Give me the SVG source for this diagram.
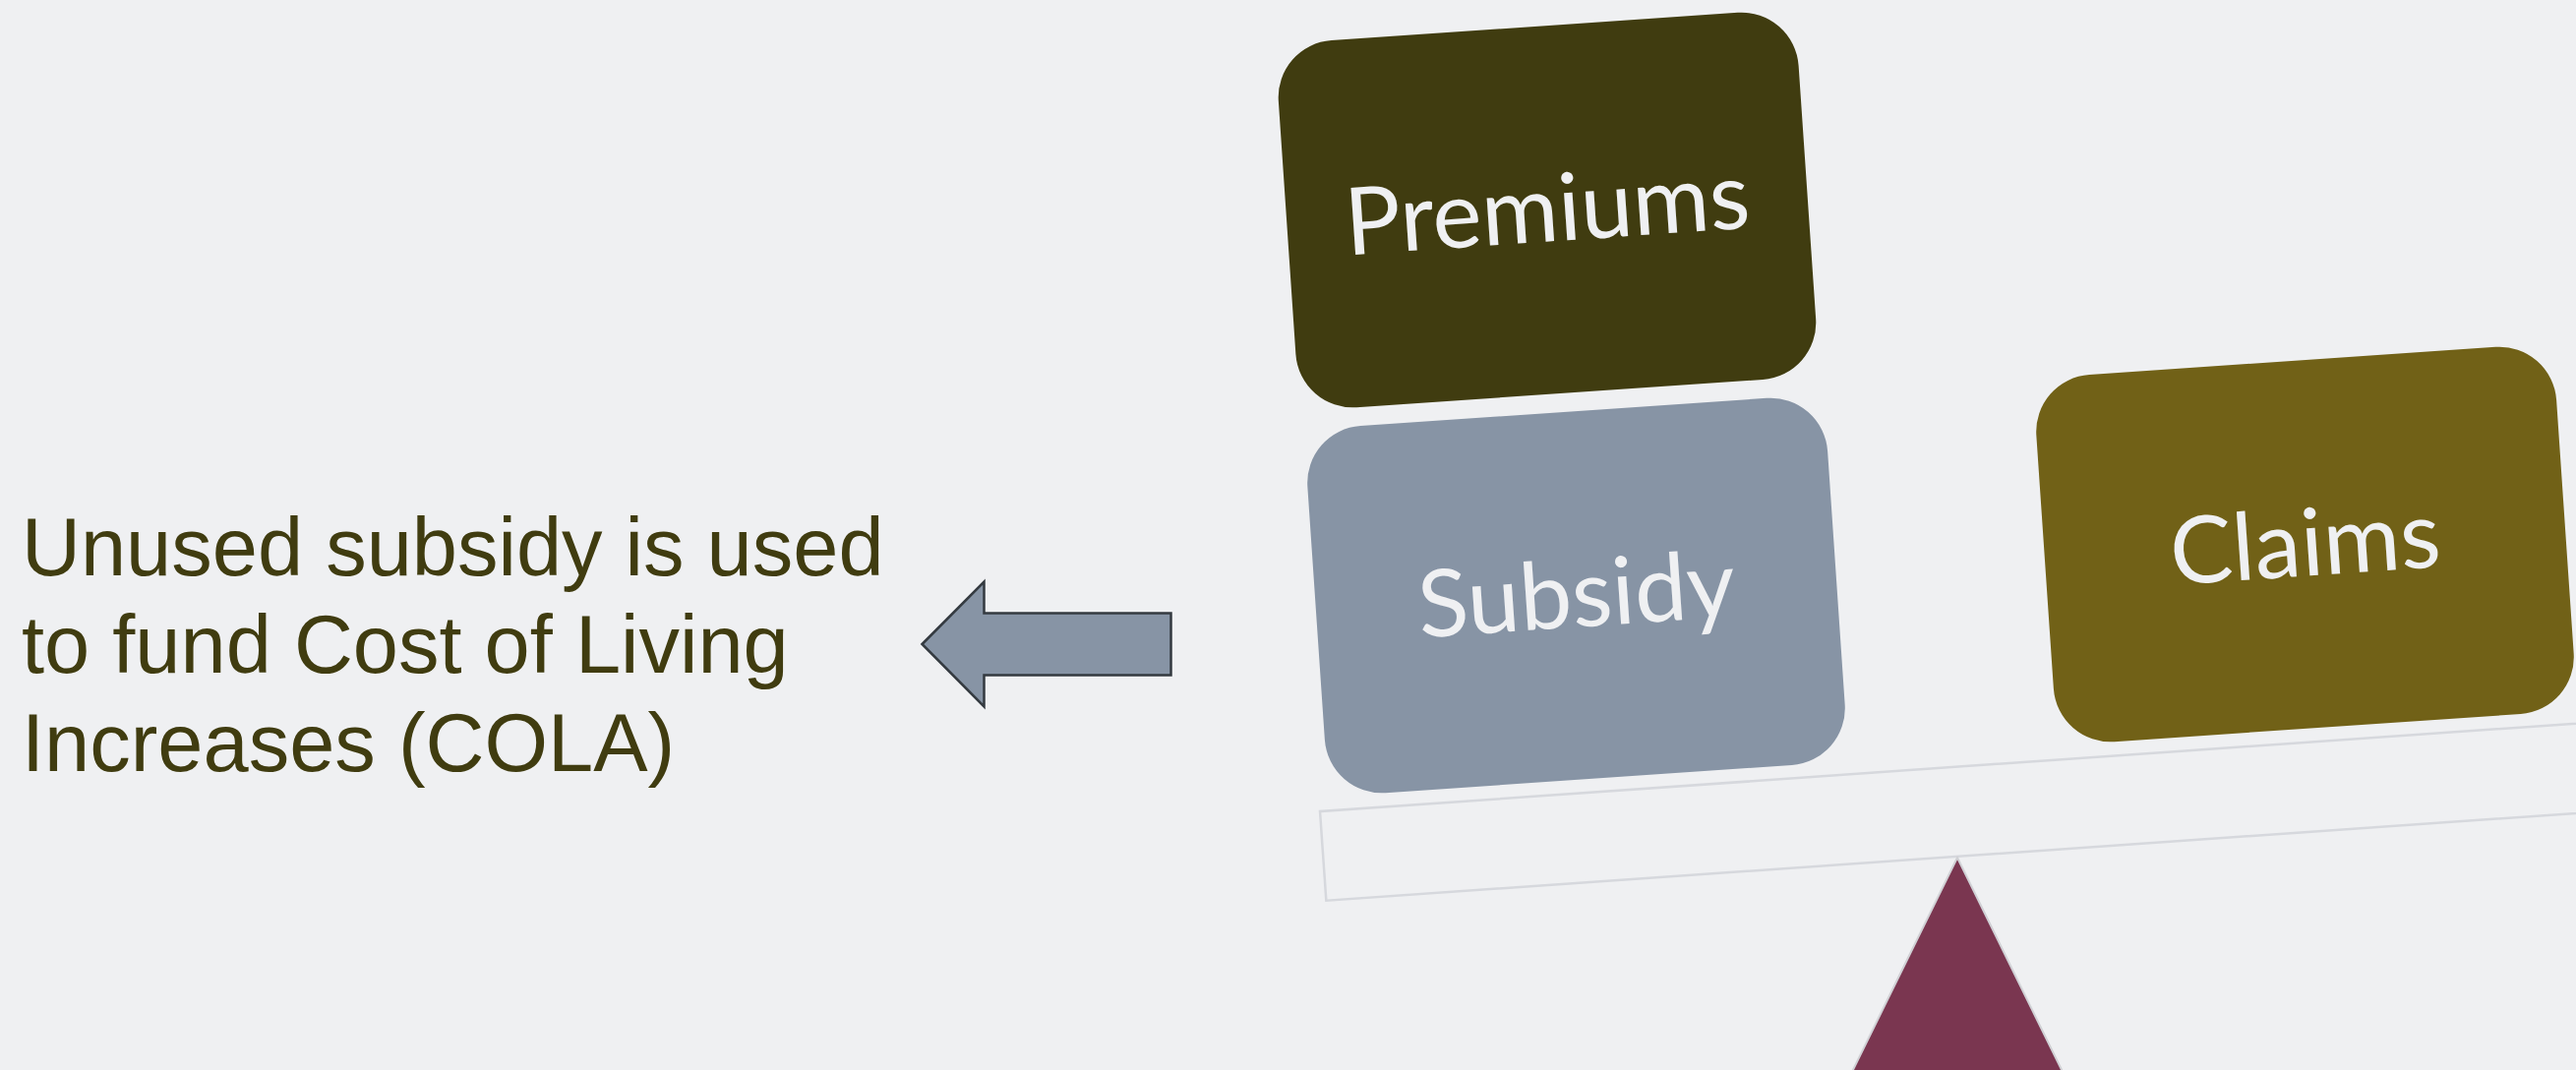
<svg xmlns="http://www.w3.org/2000/svg" width="2619" height="1088" viewBox="0 0 2619 1088">
  <style>
    .box-label { font-family: Lato, "Open Sans", "Noto Sans", sans-serif; font-size: 95px; fill: #EFF0F2; text-anchor: middle; }
    .side-text { font-family: "Liberation Sans", Arial, sans-serif; font-size: 83px; fill: #403C10; }
    .beam { fill: none; stroke: #D6D8DD; stroke-width: 2.5; }
    .fulcrum { fill: #7A3650; stroke: #D0D1D5; stroke-width: 2; }
    .arrow { fill: #8794A5; stroke: #343A40; stroke-width: 2.5; stroke-linejoin: miter; }
  </style>
  <rect x="0" y="0" width="2619" height="1088" fill="#EFF0F2"/>

  <g id="beam">
    <rect class="beam" x="1342" y="825" width="1400" height="91" transform="rotate(-4 1342 825)"/>
  </g>

  <g id="fulcrum">
    <polygon class="fulcrum" points="1990,872 2102,1100 1878,1100"/>
  </g>

  <g id="premiums" transform="translate(1573 213.5) rotate(-3.9)">
    <rect x="-265" y="-187" width="530" height="374" rx="58" ry="58" fill="#403C10"/>
    <text class="box-label" x="0" y="32">Premiums</text>
  </g>

  <g id="subsidy" transform="translate(1602.5 605.5) rotate(-3.9)">
    <rect x="-265" y="-187" width="530" height="374" rx="58" ry="58" fill="#8794A5"/>
    <text class="box-label" x="0" y="32">Subsidy</text>
  </g>

  <g id="claims" transform="translate(2343.5 553.5) rotate(-3.9)">
    <rect x="-265" y="-187" width="530" height="374" rx="58" ry="58" fill="#716117"/>
    <text class="box-label" x="0" y="32">Claims</text>
  </g>

  <g id="connectors">
    <polygon class="arrow" points="937.5,655 1000.5,591.5 1000.5,623.5 1190.5,623.5 1190.5,686.5 1000.5,686.5 1000.5,718.5"/>
  </g>

  <g id="note">
    <text class="side-text" x="22" y="585">Unused subsidy is used</text>
    <text class="side-text" x="22" y="684">to fund Cost of Living</text>
    <text class="side-text" x="22" y="784">Increases (COLA)</text>
  </g>
</svg>
